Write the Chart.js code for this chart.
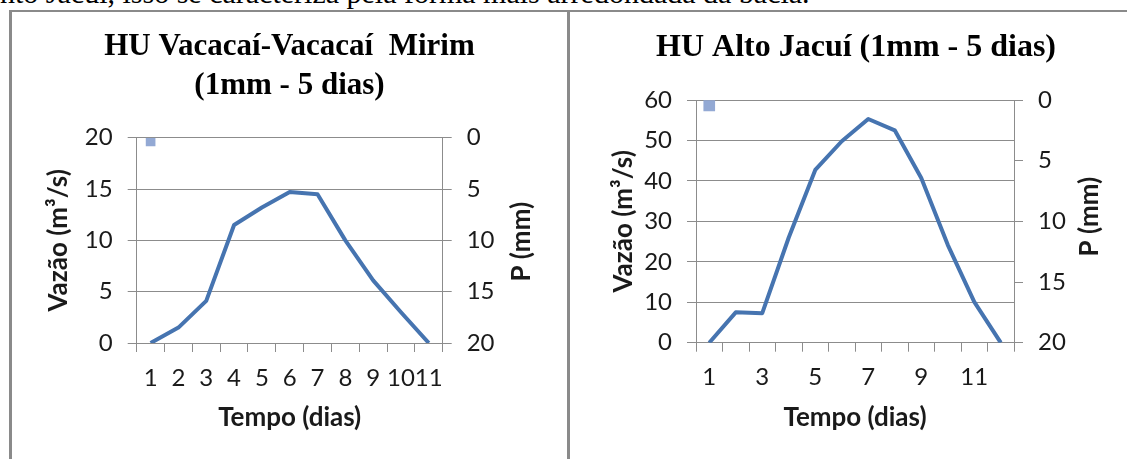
<!DOCTYPE html>
<html>
<head>
<meta charset="utf-8">
<script src="https://cdn.jsdelivr.net/npm/chart.js@4.4.1/dist/chart.umd.min.js"></script>
<style>
html, body { margin:0; padding:0; background:#fff; width:1127px; height:459px; overflow:hidden; position:relative; }
#topText { position:absolute; left:0; top:-22px; font-family:"Liberation Serif", serif; font-size:30px; line-height:30px; white-space:nowrap; color:#000; }
.frame { position:absolute; background:#8a8a8a; }
canvas { position:absolute; }
</style>
</head>
<body>
<div id="topText">nto Jacuí, isso se caracteriza pela forma mais arredondada da bacia.</div>
<div class="frame" style="left:9px;top:10px;width:1118px;height:2px"></div>
<div class="frame" style="left:9px;top:10px;width:3px;height:449px"></div>
<div class="frame" style="left:567px;top:10px;width:3px;height:449px"></div>
<canvas id="c1" width="555" height="447" style="left:12px;top:12px;width:555px;height:447px"></canvas>
<canvas id="c2" width="572" height="447" style="left:570px;top:12px;width:572px;height:447px"></canvas>
<script>
// ---- data: HU Vacacaí-Vacacaí Mirim ----
const leftDays  = ['1','2','3','4','5','6','7','8','9','10','11'];
const leftFlow  = [0, 1.5, 4.1, 11.5, 13.2, 14.7, 14.5, 10.0, 6.1, 3.0, 0];
const leftRain  = [0.8, null, null, null, null, null, null, null, null, null, null];
const leftTitle = ['HU Vacacaí-Vacacaí  Mirim', '(1mm - 5 dias)'];
const leftFlowMax = 20, leftFlowStep = 5;

// ---- data: HU Alto Jacuí ----
const rightDays  = ['1','2','3','4','5','6','7','8','9','10','11','12'];
const rightFlow  = [0, 7.5, 7.3, 26, 42.7, 49.8, 55.3, 52.5, 40.7, 24.2, 10.1, 0];
const rightRain  = [0.9, null, null, null, null, null, null, null, null, null, null, null];
const rightTitle = 'HU Alto Jacuí (1mm - 5 dias)';
const rightFlowMax = 60, rightFlowStep = 10;

// ---- shared axis text ----
const rainMax = 20, rainStep = 5;
const xTitle = 'Tempo (dias)';
const yTitle = 'Vazão (m³/s)';
const y2Title = 'P (mm)';

const GRID = '#8c8c8c';
const TXT = '#1a1a1a';
const LINE = '#4674b0';
const BAR = '#93a9d4';
const TICKFONT = { family: 'Lato', size: 24, lineHeight: 1.2 };
const AXFONT = { family: 'Lato', size: 26, weight: 'bold', lineHeight: 1.2 };

const rightAxisTitle = {
  id: 'rightAxisTitle',
  afterDraw(chart, args, opts) {
    const { ctx, chartArea } = chart;
    ctx.save();
    ctx.font = 'bold 26px Lato';
    ctx.fillStyle = TXT;
    ctx.textAlign = 'center';
    ctx.textBaseline = 'middle';
    ctx.translate(chartArea.right + opts.offset, (chartArea.top + chartArea.bottom) / 2 + opts.dy);
    ctx.rotate(-Math.PI / 2);
    ctx.fillText(opts.text, 0, 0);
    ctx.restore();
  }
};

function build(id, labels, flow, rain, flowMax, flowStep, title, L) {
  return new Chart(document.getElementById(id), {
    type: 'bar',
    data: {
      labels: labels,
      datasets: [
        { type: 'line', data: flow, yAxisID: 'y', borderColor: LINE, borderWidth: 4,
          pointRadius: 0, tension: 0, fill: false, borderJoinStyle: 'round', order: 1 },
        { type: 'bar', data: rain, yAxisID: 'y2', backgroundColor: BAR, borderWidth: 0,
          barThickness: L.barW, order: 2 }
      ]
    },
    options: {
      responsive: false,
      animation: false,
      layout: { padding: 0 },
      plugins: {
        legend: { display: false },
        tooltip: { enabled: false },
        title: {
          display: true, text: title, color: '#000',
          font: { family: 'Liberation Serif', size: L.titleSize, weight: 'bold', lineHeight: 1.25 },
          padding: { top: L.titleTop, bottom: L.titleBottom }
        },
        rightAxisTitle: { text: y2Title, offset: L.y2TitleOff, dy: L.y2TitleDy }
      },
      scales: {
        x: {
          type: 'category', offset: true,
          grid: { display: true, drawOnChartArea: false, drawTicks: true, tickLength: 9, color: GRID, offset: true },
          border: { display: true, color: GRID },
          ticks: { autoSkip: false, maxRotation: 0, minRotation: 0, padding: 11.6, font: TICKFONT, color: TXT,
                   callback: (v, i) => (i % L.every === 0 ? labels[i] : '') },
          title: { display: true, text: xTitle, color: TXT, font: AXFONT, padding: { top: 0, bottom: 25.4 } },
          afterFit: s => { s.height = L.xH; }
        },
        y: {
          position: 'left', min: 0, max: flowMax,
          grid: { color: GRID, tickLength: 9, drawTicks: true },
          border: { display: true, color: GRID },
          ticks: { stepSize: flowStep, padding: 15, font: TICKFONT, color: TXT },
          title: { display: true, text: yTitle, color: TXT, font: AXFONT, padding: { top: L.yTitlePad, bottom: 0 } },
          afterFit: s => { s.width = L.yW; }
        },
        y2: {
          position: 'right', min: 0, max: rainMax, reverse: true,
          grid: { drawOnChartArea: false, color: GRID, tickLength: 9, drawTicks: true },
          border: { display: true, color: GRID },
          ticks: { stepSize: rainStep, padding: 15, font: TICKFONT, color: TXT },
          afterFit: s => { s.width = L.y2W; }
        }
      }
    },
    plugins: [rightAxisTitle]
  });
}

build('c1', leftDays, leftFlow, leftRain, leftFlowMax, leftFlowStep, leftTitle, {
  barW: 9, titleSize: 31, titleTop: 15.6, titleBottom: 32.6, xH: 116, yW: 124.7, y2W: 124.3,
  yTitlePad: 30.7, y2TitleOff: 79, y2TitleDy: 1.4, every: 1
});
build('c2', rightDays, rightFlow, rightRain, rightFlowMax, rightFlowStep, rightTitle, {
  barW: 11, titleSize: 32, titleTop: 15.9, titleBottom: 32.1, xH: 116.3, yW: 126, y2W: 128,
  yTitlePad: 38, y2TitleOff: 76, y2TitleDy: -4.7, every: 2
});
</script>
</body>
</html>
